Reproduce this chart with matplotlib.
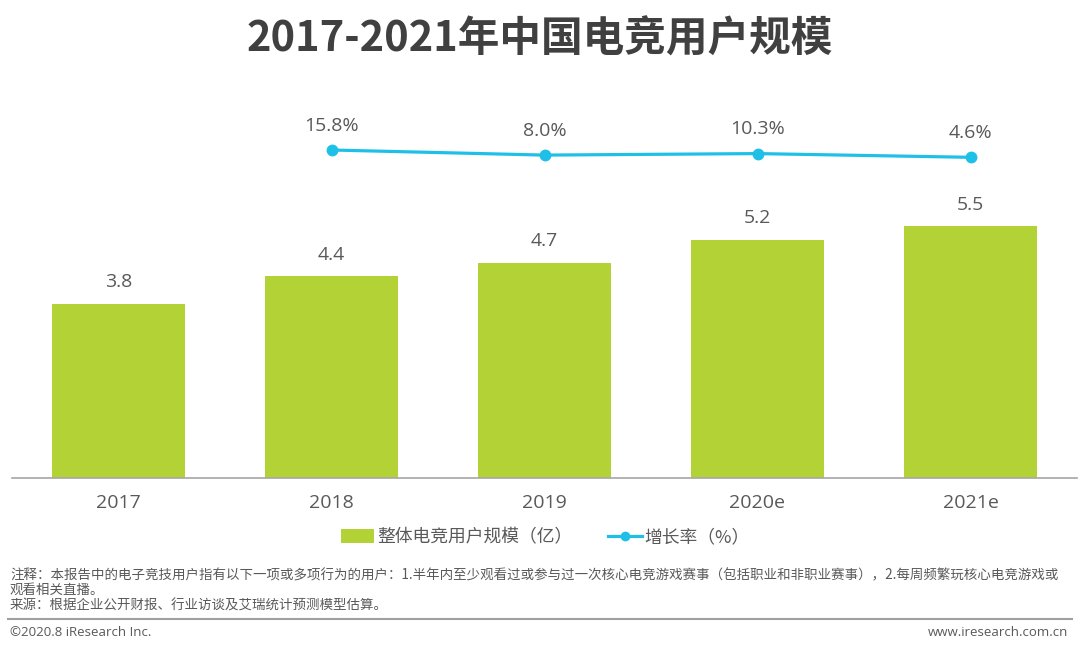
import matplotlib
matplotlib.use("Agg")
import matplotlib.pyplot as plt
from matplotlib.lines import Line2D
from matplotlib.patches import Patch

plt.rcParams['font.family'] = ['Open Sans', 'Noto Sans CJK SC', 'DejaVu Sans']

years = ["2017", "2018", "2019", "2020e", "2021e"]
users = [3.8, 4.4, 4.7, 5.2, 5.5]
growth_years = ["2018", "2019", "2020e", "2021e"]
growth = [15.8, 8.0, 10.3, 4.6]

title = "2017-2021年中国电竞用户规模"
legend_bar = "整体电竞用户规模（亿）"
legend_line = "增长率（%）"
note1 = "注释：本报告中的电子竞技用户指有以下一项或多项行为的用户：1.半年内至少观看过或参与过一次核心电竞游戏赛事（包括职业和非职业赛事），2.每周频繁玩核心电竞游戏或"
note2 = "观看相关直播。"
note3 = "来源：根据企业公开财报、行业访谈及艾瑞统计预测模型估算。"
copyright_txt = "©2020.8 iResearch Inc."
url_txt = "www.iresearch.com.cn"

BAR = "#b2d235"
LINE = "#1ec0e8"
TXT = "#595959"

W, H = 1080, 652
fig = plt.figure(figsize=(W / 100, H / 100), dpi=100)
ax = fig.add_axes([12 / W, 1 - 477.5 / H, 1065 / W, 377.5 / H])

x = list(range(len(years)))
ax.bar(x, users, width=0.62, color=BAR, zorder=2)
ax.set_xlim(-0.5, 4.5)
ax.set_ylim(0, 8.26)
ax.set_xticks(x)
ax.set_xticklabels(years, fontsize=14, color=TXT, family=['Open Sans', 'Noto Sans CJK SC'])
ax.tick_params(axis='x', length=0, pad=12)
ax.set_yticks([])
for s in ['top', 'right', 'left']:
    ax.spines[s].set_visible(False)
ax.spines['bottom'].set_color('#a6a6a6')
ax.spines['bottom'].set_linewidth(1.2)

for xi, v in zip(x, users):
    ax.annotate(f"{v:.1f}", (xi, v), xytext=(0, 9), textcoords='offset points',
                ha='center', va='bottom', fontsize=14, color=TXT)

ax2 = ax.twinx()
gx = [years.index(g) for g in growth_years]
ax2.plot(gx, growth, color=LINE, lw=2.3, marker='o', markersize=7.5, zorder=3)
ax2.set_ylim(-486.5, 92.5)
ax2.set_yticks([])
for s in ['top', 'right', 'left', 'bottom']:
    ax2.spines[s].set_visible(False)
for xi, v in zip(gx, growth):
    ax2.annotate(f"{v:.1f}%", (xi, v), xytext=(0, 11), textcoords='offset points',
                 ha='center', va='bottom', fontsize=14, color=TXT)

fig.text(0.5, 1 - 40 / H, title, ha='center', va='center', fontsize=30,
         fontweight='bold', color='#404040', family=['Noto Sans CJK SC'])

handles = [Patch(facecolor=BAR, edgecolor='none'),
           Line2D([0], [0], color=LINE, lw=2.3, marker='o', markersize=6)]
fig.legend(handles, [legend_bar, legend_line], loc='center',
           bbox_to_anchor=(545 / W, 1 - 537 / H), ncol=2, frameon=False,
           prop={'family': ['Noto Sans CJK SC'], 'size': 12.8},
           handlelength=1.9, handleheight=0.8, handletextpad=0.15,
           columnspacing=2.0, labelcolor=TXT)

nkw = dict(ha='left', va='center', fontsize=9.7, color=TXT, family=['Noto Sans CJK SC', 'DejaVu Sans'])
fig.text(10 / W, 1 - 575 / H, note1, **nkw)
fig.text(10 / W, 1 - 590 / H, note2, **nkw)
fig.text(10 / W, 1 - 606 / H, note3, **nkw)

fig.add_artist(Line2D([8 / W, 1072 / W], [1 - 619 / H, 1 - 619 / H], color='#a0a0a0', lw=1.5))
fig.text(10 / W, 1 - 632 / H, copyright_txt, ha='left', va='center', fontsize=9.5, color=TXT)
fig.text(1068 / W, 1 - 632 / H, url_txt, ha='right', va='center', fontsize=9.5, color=TXT)

fig.savefig("out.png", dpi=100, facecolor='white')
